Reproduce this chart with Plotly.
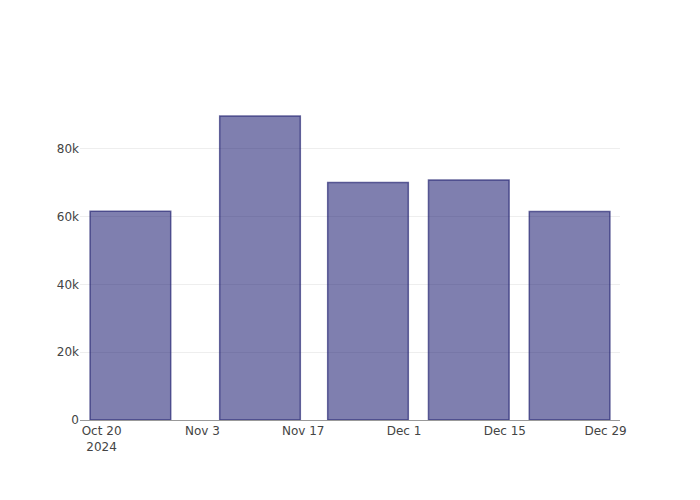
import plotly.graph_objects as go

dates = ["2024-10-24", "2024-11-11", "2024-11-26", "2024-12-10", "2024-12-24"]
values = [61600, 89700, 70100, 70800, 61500]

fig = go.Figure(
    go.Bar(
        x=dates,
        y=values,
        marker=dict(
            color="rgba(0,0,95,0.5)",
            line=dict(color="rgba(30,30,110,0.65)", width=1.5),
        ),
    )
)

fig.update_layout(
    width=700,
    height=500,
    margin=dict(l=72, r=88, t=92, b=88),
    paper_bgcolor="white",
    plot_bgcolor="white",
    font=dict(family="DejaVu Sans", size=12, color="#444"),
    showlegend=False,
    bargap=0.2,
)
fig.update_xaxes(
    type="date",
    range=["2024-10-17", "2024-12-31"],
    showgrid=False,
    showline=True,
    linecolor="#999",
    linewidth=1,
    ticks="",
    ticklen=0,
    dtick=14 * 24 * 3600 * 1000,
    tick0="2024-10-20",
)
fig.update_yaxes(
    showgrid=True,
    gridcolor="#eeeeee",
    zeroline=False,
    showline=False,
    ticks="",
    tickformat="~s",
    dtick=20000,
)

fig.write_html("out.html")
